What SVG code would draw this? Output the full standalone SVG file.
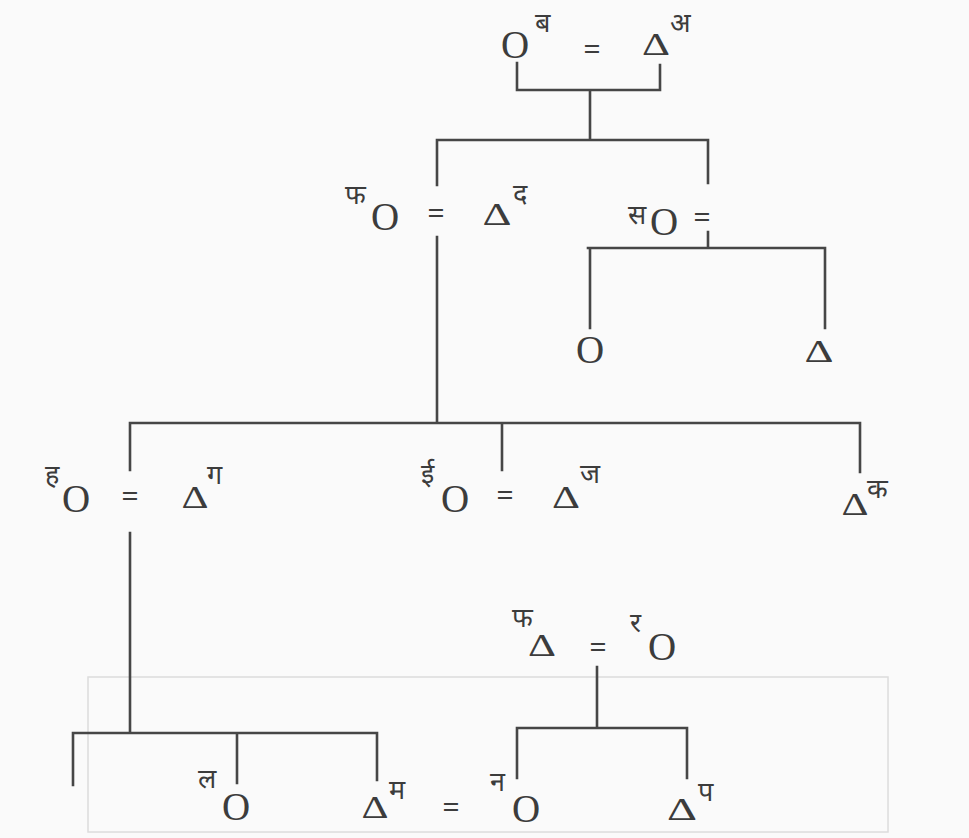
<svg xmlns="http://www.w3.org/2000/svg" width="969" height="838" viewBox="0 0 969 838">
<style>
.bg{fill:#fafafa}
.box{fill:none;stroke:#dcdcdc;stroke-width:1.5}
.ln{stroke:#464646;stroke-width:2.6;fill:none;stroke-linecap:square}
.o{font-family:"Liberation Serif",serif;font-size:39px;fill:#3c3c3c;text-anchor:middle}
.t{font-family:"Liberation Serif",serif;font-size:32px;fill:#3c3c3c;text-anchor:middle}
.eq{font-family:"Liberation Serif",serif;font-size:30px;font-weight:bold;fill:#3c3c3c;text-anchor:middle}
.s{font-family:"Noto Sans Devanagari","Lohit Devanagari","Noto Sans",sans-serif;font-size:27px;fill:#3c3c3c}
</style>
<rect class="bg" x="0" y="0" width="969" height="838"/>
<rect class="box" x="88" y="677" width="800" height="155"/>
<g id="connectors">
<path class="ln" d="M517,63V90H660V65M590,90V140M437,140H708M437,140V185M437,237V423M708,140V183M708,232V248M588,248H825M590,248V328M825,248V328M130,423H860M130,423V470M130,533V733M502,423V470M860,423V472M73,733H377M73,733V785M237,733V783M377,733V780M597,667V728M517,728H687M517,728V778M687,728V778"/>
</g>
<g id="n-ba"><text class="o" x="515" y="58">O</text><text class="s" x="535" y="32">ब</text></g>
<g id="eq1"><text class="eq" x="592" y="59">=</text></g>
<g id="n-a"><text class="t" x="656" y="55" textLength="28" lengthAdjust="spacingAndGlyphs">Δ</text><text class="s" x="670" y="32">अ</text></g>
<g id="n-pha"><text class="s" x="345" y="204">फ</text><text class="o" x="385" y="230">O</text></g>
<g id="eq2"><text class="eq" x="436" y="223">=</text></g>
<g id="n-da"><text class="t" x="497" y="225" textLength="29" lengthAdjust="spacingAndGlyphs">Δ</text><text class="s" x="513" y="203">द</text></g>
<g id="n-sa"><text class="s" x="628" y="224">स</text><text class="o" x="664" y="235">O</text></g>
<g id="eq3"><text class="eq" x="702" y="227">=</text></g>
<g id="n-c1"><text class="o" x="590" y="363">O</text></g>
<g id="n-c2"><text class="t" x="819" y="362" textLength="29" lengthAdjust="spacingAndGlyphs">Δ</text></g>
<g id="n-ha"><text class="s" x="45" y="484">ह</text><text class="o" x="76" y="512">O</text></g>
<g id="eq4"><text class="eq" x="130" y="506">=</text></g>
<g id="n-ga"><text class="t" x="195" y="508" textLength="27" lengthAdjust="spacingAndGlyphs">Δ</text><text class="s" x="207" y="484">ग</text></g>
<g id="n-ii"><text class="s" x="421" y="483">ई</text><text class="o" x="455" y="512">O</text></g>
<g id="eq5"><text class="eq" x="505" y="505">=</text></g>
<g id="n-ja"><text class="t" x="566" y="508" textLength="28" lengthAdjust="spacingAndGlyphs">Δ</text><text class="s" x="580" y="483">ज</text></g>
<g id="n-ka"><text class="t" x="855" y="515" textLength="27" lengthAdjust="spacingAndGlyphs">Δ</text><text class="s" x="867" y="498">क</text></g>
<g id="n-pha2"><text class="s" x="512" y="627">फ</text><text class="t" x="542" y="656" textLength="28" lengthAdjust="spacingAndGlyphs">Δ</text></g>
<g id="eq6"><text class="eq" x="598" y="657">=</text></g>
<g id="n-ra"><text class="s" x="630" y="632">र</text><text class="o" x="662" y="660">O</text></g>
<g id="n-la"><text class="s" x="198" y="788">ल</text><text class="o" x="236" y="820">O</text></g>
<g id="n-ma"><text class="t" x="375" y="818" textLength="27" lengthAdjust="spacingAndGlyphs">Δ</text><text class="s" x="389" y="799">म</text></g>
<g id="eq7"><text class="eq" x="451" y="817">=</text></g>
<g id="n-na"><text class="s" x="490" y="791">न</text><text class="o" x="526" y="822">O</text></g>
<g id="n-pa"><text class="t" x="682" y="820" textLength="30" lengthAdjust="spacingAndGlyphs">Δ</text><text class="s" x="698" y="801">प</text></g>
</svg>
